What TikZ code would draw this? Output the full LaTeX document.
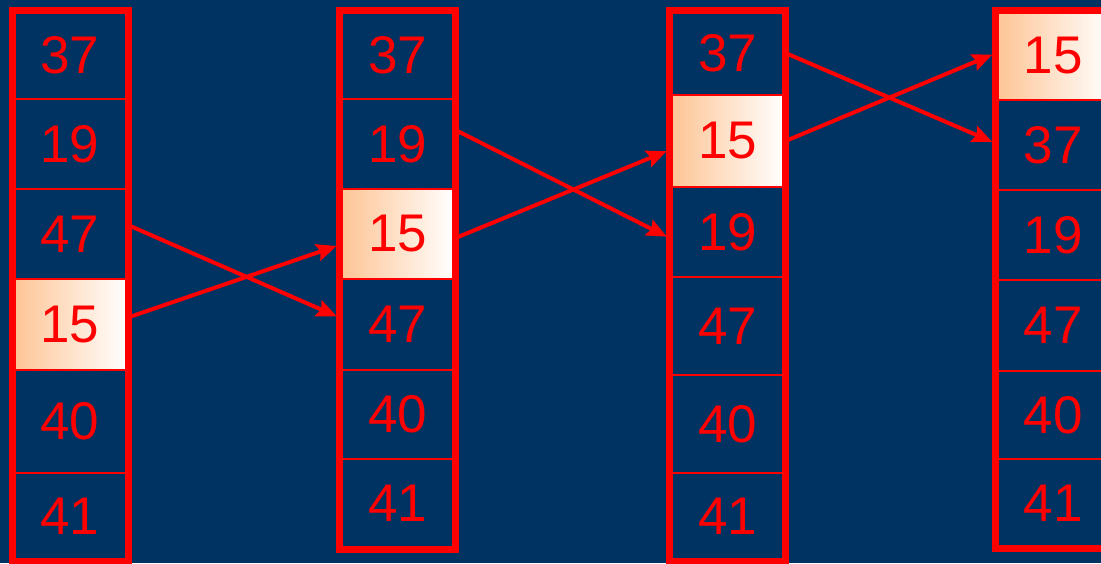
\documentclass[tikz,border=0pt]{standalone}
\usepackage{fontspec}
\setmainfont{Liberation Sans}
\usetikzlibrary{arrows.meta}
\definecolor{sfondo}{RGB}{0,50,98}
\definecolor{arancio}{RGB}{253,196,148}

\begin{document}
\begin{tikzpicture}[x=0.5pt, y=-0.5pt, >={Stealth[length=10pt,width=8.5pt,inset=1.5pt]}]

        % Sfondo blu scuro
        \path[use as bounding box, fill=sfondo] (0,0) rectangle (1101,563);

        % Stili per celle, cella evidenziata, bordo e frecce
        \tikzset{
            cella/.style={draw=red, line width=1pt, text=red, minimum width=57pt,
                minimum height=#1, inner sep=0pt, font=\fontsize{26.5}{30}\selectfont},
            scelta/.style={cella=#1, left color=arancio, right color=white},
            bordo/.style={draw=red, line width=3.5pt},
            freccia/.style={->, draw=red, line width=2pt, shorten >=1.5pt}
        }

        % Colonna 1
        \node[cella=44pt]    (a1) at (70,55)    {37};
        \node[cella=45pt]    (a2) at (70,144)   {19};
        \node[cella=45pt]    (a3) at (70,234)   {47};
        \node[scelta=45.5pt] (a4) at (70,324.5) {15};
        \node[cella=51.5pt]  (a5) at (70,421.5) {40};
        \node[cella=43.5pt]  (a6) at (70,516.5) {41};
        \draw[bordo] (a1.north west) rectangle (a6.south east);

        % Colonna 2
        \node[cella=44pt]    (b1) at (397.5,55)    {37};
        \node[cella=45pt]    (b2) at (397.5,144)   {19};
        \node[scelta=45pt]   (b3) at (397.5,234)   {15};
        \node[cella=45.5pt]  (b4) at (397.5,324.5) {47};
        \node[cella=44.5pt]  (b5) at (397.5,414.5) {40};
        \node[cella=44.5pt]  (b6) at (397.5,503.5) {41};
        \draw[bordo] (b1.north west) rectangle (b6.south east);

        % Colonna 3
        \node[cella=42pt]    (c1) at (727.5,53)    {37};
        \node[scelta=46pt]   (c2) at (727.5,141)   {15};
        \node[cella=45pt]    (c3) at (727.5,232)   {19};
        \node[cella=49pt]    (c4) at (727.5,326)   {47};
        \node[cella=49pt]    (c5) at (727.5,424)   {40};
        \node[cella=43.5pt]  (c6) at (727.5,516.5) {41};
        \draw[bordo] (c1.north west) rectangle (c6.south east);

        % Colonna 4
        \node[scelta=44.5pt] (d1) at (1053,55.5)  {15};
        \node[cella=45pt]    (d2) at (1053,145)   {37};
        \node[cella=45pt]    (d3) at (1053,235)   {19};
        \node[cella=45.5pt]  (d4) at (1053,325.5) {47};
        \node[cella=44pt]    (d5) at (1053,415)   {40};
        \node[cella=44pt]    (d6) at (1053,503)   {41};
        \draw[bordo] (d1.north west) rectangle (d6.south east);

        % Scambi
        \draw[freccia] ([yshift=4.5pt]a3.east) -- ([yshift=3.5pt]b4.west);
        \draw[freccia] ([yshift=3.5pt]a4.east) -- ([yshift=-5.5pt]b3.west);
        \draw[freccia] ([yshift=7pt]b2.east) -- ([yshift=-3pt]c3.west);
        \draw[freccia] ([yshift=-2pt]b3.east) -- ([yshift=-4.5pt]c2.west);
        \draw[freccia] (c1.east) -- ([yshift=1pt]d2.west);
        \draw[freccia] (c2.east) -- ([yshift=1pt]d1.west);

\end{tikzpicture}
\end{document}
